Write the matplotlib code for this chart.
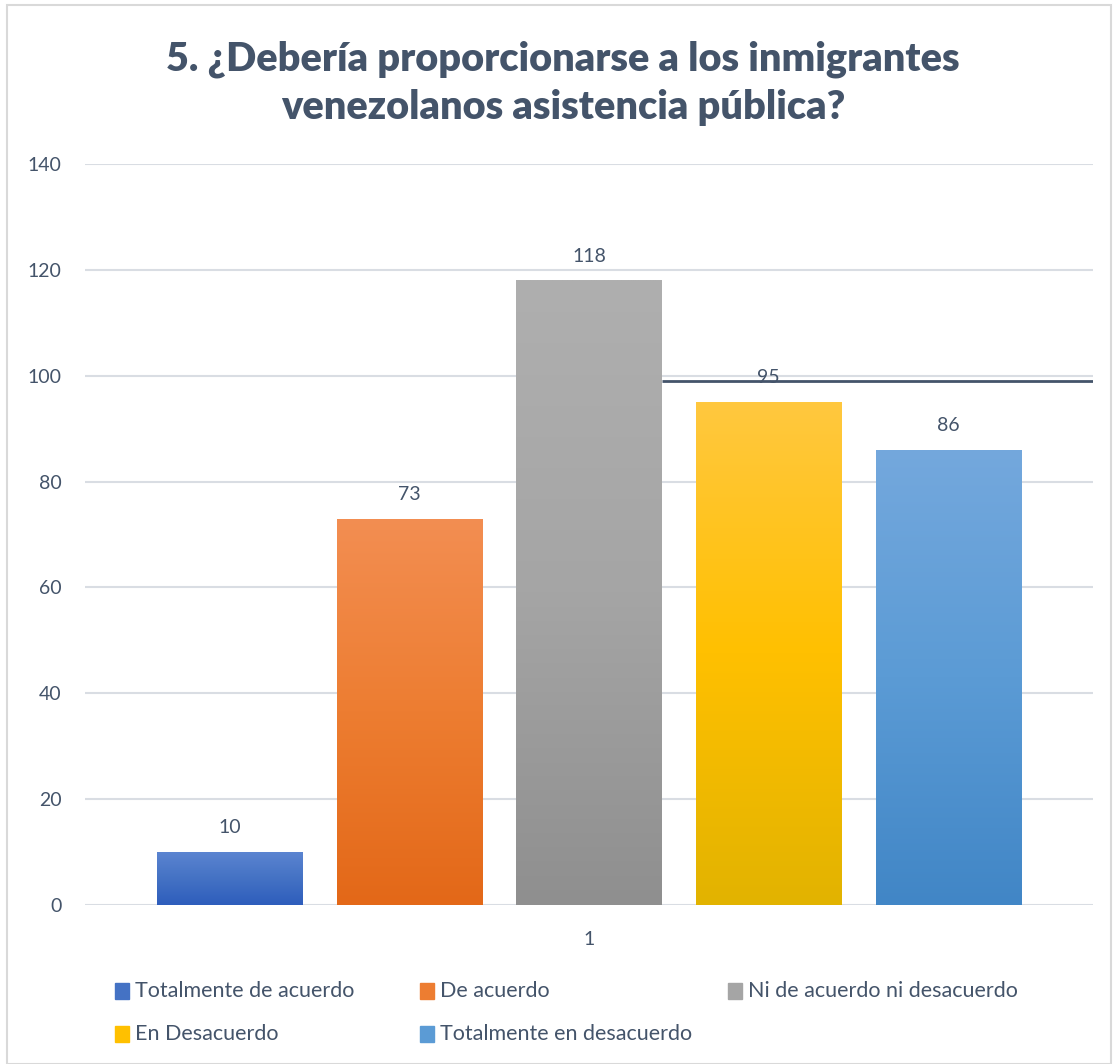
import numpy as np
import matplotlib.pyplot as plt
from matplotlib.colors import LinearSegmentedColormap
from matplotlib.patches import Rectangle

# Datos
categorias = ["Totalmente de acuerdo", "De acuerdo", "Ni de acuerdo ni desacuerdo",
              "En Desacuerdo", "Totalmente en desacuerdo"]
valores = [10, 73, 118, 95, 86]
# degradado por barra: (arriba, medio, abajo)
degradados = [
    ("#5B84D1", "#4472C4", "#2E5DBC"),
    ("#F38E52", "#ED7D31", "#E36818"),
    ("#AFAFAF", "#A5A5A5", "#8F8F8F"),
    ("#FFC83F", "#FFC000", "#E2B300"),
    ("#74A8DD", "#5B9BD5", "#4186C6"),
]
linea_extra = 99  # linea oscura que aparece en la imagen

plt.rcParams['font.family'] = ['Lato', 'DejaVu Sans']
texto = "#44546A"

fig = plt.figure(figsize=(11.13, 10.64), dpi=100)
ax = fig.add_axes([85 / 1113, 1 - 905 / 1064, 1008 / 1113, 741 / 1064])

x = np.arange(len(valores))
barras = ax.bar(x, valores, width=0.81, color="none", edgecolor="none", zorder=2)
for b, v, (c1, c2, c3) in zip(barras, valores, degradados):
    cmap = LinearSegmentedColormap.from_list("g", [c3, c2, c1])
    x0, y0 = b.get_x(), b.get_y()
    grad = np.linspace(0, 1, 256).reshape(-1, 1)
    im = ax.imshow(grad, cmap=cmap, origin="lower", aspect="auto",
                   extent=(x0, x0 + b.get_width(), y0, y0 + b.get_height()), zorder=2)
    im.set_clip_path(b)
    ax.text(x0 + b.get_width() / 2, v + 3, str(v),
            ha="center", va="bottom", fontsize=14, color=texto)

# linea oscura desde el borde de la barra gris
b3 = barras[2]
ax.hlines(linea_extra, b3.get_x() + b3.get_width(), 4.805, color=texto, lw=2, zorder=3)

ax.set_xlim(-0.805, 4.805)
ax.set_ylim(0, 140)
ax.set_yticks(range(0, 141, 20))
ax.set_xticks([2])
ax.set_xticklabels(["1"])
ax.tick_params(length=0, labelsize=14, colors=texto)
ax.tick_params(axis="y", pad=17)
ax.tick_params(axis="x", pad=19)
ax.grid(axis="y", color="#D9DDE3", lw=1.5, zorder=0)
ax.set_axisbelow(True)
for s in ax.spines.values():
    s.set_visible(False)

fig.suptitle("5. ¿Debería proporcionarse a los inmigrantes\nvenezolanos asistencia pública?",
             x=563 / 1113, y=1 - 40 / 1064, va="top", fontsize=28.5, fontweight="heavy",
             color=texto, linespacing=1.4)

# leyenda manual
pos = [(115, 991), (420, 991), (728, 991), (115, 1034), (420, 1034)]
for (px, py), nombre, (c1, c2, c3) in zip(pos, categorias, degradados):
    fig.add_artist(Rectangle((px / 1113, 1 - (py + 8) / 1064), 14 / 1113, 16 / 1064,
                             transform=fig.transFigure, color=c2))
    fig.text((px + 20) / 1113, 1 - py / 1064, nombre, fontsize=15.5, color=texto, va="center")

# borde del grafico
fig.add_artist(Rectangle((7 / 1113, 0), 1 - 9 / 1113, 1 - 5 / 1064, transform=fig.transFigure,
                         fill=False, edgecolor="#D9D9D9", lw=1.5))

fig.savefig("out.png", dpi=100)
